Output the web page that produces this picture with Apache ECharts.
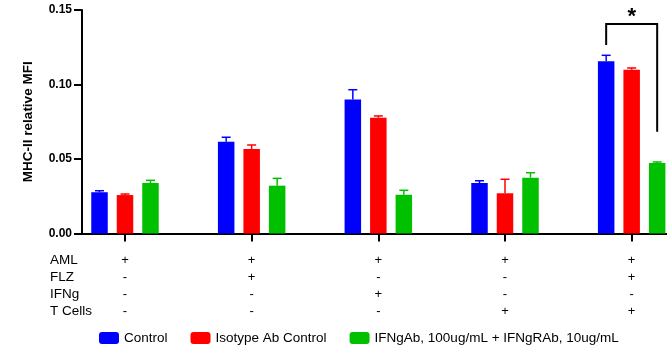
<!DOCTYPE html>
<html><head><meta charset="utf-8">
<script src="https://cdn.jsdelivr.net/npm/echarts@6/dist/echarts.min.js"></script>
<style>html,body{margin:0;padding:0;background:#fff;overflow:hidden}#c{width:700px;height:346px}</style>
</head><body><div id="c"></div>
<script>
// ---- data ----
const categories = ['G1','G2','G3','G4','G5'];
const rowLabels = ['AML','FLZ','IFNg','T Cells'];
const conditionSigns = [
  ['+','-','-','-'],
  ['+','+','-','-'],
  ['+','-','+','-'],
  ['+','-','-','+'],
  ['+','+','-','+']
];
const seriesNames = ['Control','Isotype Ab Control','IFNgAb, 100ug/mL + IFNgRAb, 10ug/mL'];
const controlMean   = [0.0277, 0.0616, 0.0900, 0.0339, 0.1156];
const controlErr    = [0.0287, 0.0646, 0.0965, 0.0354, 0.1196];
const isotypeMean   = [0.0258, 0.0567, 0.0777, 0.0270, 0.1099];
const isotypeErr    = [0.0265, 0.0594, 0.0789, 0.0364, 0.1111];
const blockMean     = [0.0339, 0.0321, 0.0260, 0.0375, 0.0473];
const blockErr      = [0.0357, 0.0370, 0.0290, 0.0408, 0.0480];
const yTicks = [0, 0.05, 0.10, 0.15];
const sigBracket = { category: 4, leftBottom: 0.1265, top: 0.1406, rightBottom: 0.0683, label: '*' };

const colors = ['#0000FF','#FF0000','#00C000'];
const FONT = 'Liberation Sans, Arial, sans-serif';
const barW = 16.5, gapPx = 9;
const means = [controlMean, isotypeMean, blockMean];
const errs = [controlErr, isotypeErr, blockErr];

const chart = echarts.init(document.getElementById('c'), null, {renderer:'canvas'});

const series = [];
means.forEach((m, i) => {
  series.push({
    name: seriesNames[i], type: 'bar', xAxisIndex: 0, yAxisIndex: 0,
    data: m, barWidth: barW, barGap: (gapPx / barW * 100) + '%',
    itemStyle: { color: colors[i] }, z: 2
  });
});
means.forEach((m, i) => {
  const off = (i - 1) * (barW + gapPx);
  series.push({
    type: 'custom', xAxisIndex: 0, yAxisIndex: 0, z: 3, silent: true,
    data: m.map((v, k) => [k, v, errs[i][k]]),
    renderItem: function (params, api) {
      const p0 = api.coord([api.value(0), api.value(1)]);
      const p1 = api.coord([api.value(0), api.value(2)]);
      const x = p0[0] + off;
      return { type: 'group', children: [
        { type: 'line', shape: { x1: x, y1: p0[1], x2: x, y2: p1[1] }, style: { stroke: colors[i], lineWidth: 1.5 } },
        { type: 'line', shape: { x1: x - 4.5, y1: p1[1], x2: x + 4.5, y2: p1[1] }, style: { stroke: colors[i], lineWidth: 1.5 } }
      ]};
    }
  });
});
// significance bracket
series.push({
  type: 'custom', xAxisIndex: 0, yAxisIndex: 0, z: 4, silent: true,
  data: [[sigBracket.category, sigBracket.leftBottom, sigBracket.top, sigBracket.rightBottom]],
  renderItem: function (params, api) {
    const c = api.value(0);
    const pl = api.coord([c, api.value(1)]);
    const pt = api.coord([c, api.value(2)]);
    const pr = api.coord([c, api.value(3)]);
    const d = barW + gapPx;
    const xl = pl[0] - d, xr = pl[0] + d;
    return { type: 'group', children: [
      { type: 'polyline', shape: { points: [[xl, pl[1]], [xl, pt[1]], [xr, pt[1]], [xr, pr[1]]] },
        style: { stroke: '#000', lineWidth: 2, fill: null } },
      { type: 'text', style: { text: sigBracket.label, x: pl[0], y: pt[1] + 4, align: 'center', verticalAlign: 'bottom',
        font: 'bold 22px ' + FONT, fill: '#000' } }
    ]};
  }
});

chart.setOption({
  animation: false,
  grid: [
    { left: 61.67, width: 633.33, top: 10, bottom: 112.5 },
    { left: 82, width: 585, top: 10, bottom: 112.5 }
  ],
  legend: {
    data: seriesNames, left: 94, top: 326, itemWidth: 20, itemHeight: 12, itemGap: 23,
    icon: 'roundRect', textStyle: { fontFamily: FONT, fontSize: 13.5, color: '#000' }
  },
  xAxis: [
    { type: 'category', gridIndex: 0, data: categories, boundaryGap: true,
      axisLine: { show: false },
      axisTick: { show: true, alignWithLabel: true, length: 8, lineStyle: { color: '#000', width: 2 } },
      axisLabel: { margin: 18, interval: 0, fontFamily: FONT, fontSize: 13, color: '#000', lineHeight: 17,
        formatter: function (v, idx) { return conditionSigns[idx].join('\n'); } },
      splitLine: { show: false } },
    { type: 'value', gridIndex: 1, min: 0, max: 1,
      axisLine: { show: true, lineStyle: { color: '#000', width: 2 } },
      axisTick: { show: false }, axisLabel: { show: false }, splitLine: { show: false } }
  ],
  yAxis: [
    { type: 'value', gridIndex: 0, min: 0, max: 0.15, interval: 0.05, show: false, splitLine: { show: false } },
    { type: 'value', gridIndex: 1, min: yTicks[0], max: yTicks[yTicks.length - 1], interval: 0.05,
      axisLine: { show: true, lineStyle: { color: '#000', width: 2 } },
      axisTick: { show: true, length: 8, lineStyle: { color: '#000', width: 2 } },
      axisLabel: { margin: 10, fontFamily: FONT, fontSize: 12, fontWeight: 'bold', color: '#000',
        formatter: v => v.toFixed(2) },
      splitLine: { show: false },
      name: 'MHC-II relative MFI', nameLocation: 'middle', nameGap: 47,
      nameTextStyle: { fontFamily: FONT, fontSize: 13.5, fontWeight: 'bold', color: '#000' } }
  ],
  graphic: [
    { type: 'text', left: 50, top: 251.5,
      style: { text: rowLabels.join('\n'), font: '13.5px ' + FONT, fill: '#000', lineHeight: 17 } }
  ],
  series: series
});
</script></body></html>
